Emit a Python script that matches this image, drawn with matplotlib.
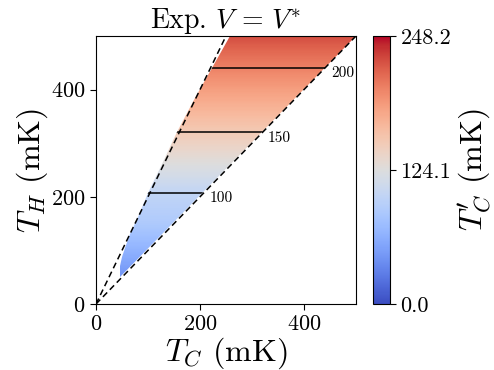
import numpy as np
import matplotlib
matplotlib.use("Agg")
import matplotlib.pyplot as plt
from matplotlib import patches
from matplotlib.colors import Normalize
from matplotlib.cm import ScalarMappable

plt.rcParams['font.family'] = 'cmr10'
plt.rcParams['mathtext.fontset'] = 'cm'
plt.rcParams['axes.formatter.use_mathtext'] = True

th_knots = [50, 150, 207, 320, 441, 500]
tcp_knots = [42, 86, 100, 150, 200, 226]

# outline of the coloured region (T_C, T_H) in mK
left_tc = [47, 47, 50, 56, 66, 80, 100, 128, 155, 190, 224, 258]
left_th = [51, 70, 88, 105, 130, 163, 207, 265, 320, 385, 441, 500]
right_tc = [500, 47]
right_th = [500, 51]

contour_levels = [100, 150, 200]
cbar_ticks = [0.0, 124.1, 248.2]
vmax = 248.2

fig = plt.figure(figsize=(4.94, 3.70), dpi=100)
ax = fig.add_axes([96/494, 66/370, 260/494, 268/370])
cax = fig.add_axes([373/494, 66/370, 17/494, 268/370])

tc = np.linspace(0, 500, 501)
th = np.linspace(0, 500, 501)
TC, TH = np.meshgrid(tc, th)
Z = np.interp(TH, th_knots, tcp_knots)

norm = Normalize(0, vmax)
region = patches.Polygon(list(zip(left_tc + right_tc, left_th + right_th)),
                         closed=True, fc='none', ec='none', transform=ax.transData)
ax.add_patch(region)

mesh = ax.pcolormesh(TC, TH, Z, cmap='coolwarm', norm=norm, shading='auto',
                     rasterized=True)
mesh.set_clip_path(region)

cs = ax.contour(TC, TH, Z, levels=contour_levels, colors='k', linewidths=1.1)
cs.set_clip_path(region)

# level labels just right of where each line meets T_H = T_C
for lev in contour_levels:
    y = np.interp(lev, tcp_knots, th_knots)
    ax.annotate(str(lev), (y, y), xytext=(4, -4), textcoords='offset points',
                ha='left', va='center', fontsize=11)

ax.plot([0, 500], [0, 500], 'k--', lw=1.1, dashes=(4, 2.5))
ax.plot([0, 250], [0, 500], 'k--', lw=1.1, dashes=(4, 2.5))

ax.set_xlim(0, 500)
ax.set_ylim(0, 500)
ax.set_xticks([0, 200, 400])
ax.set_yticks([0, 200, 400])
ax.tick_params(labelsize=16, length=4)
ax.set_xlabel(r'$T_C$ (mK)', fontsize=23, labelpad=1)
ax.set_ylabel(r'$T_H$ (mK)', fontsize=23, labelpad=1)
ax.set_title(r'Exp. $V\,=\,V^{*}$', fontsize=20, pad=1)

cb = fig.colorbar(ScalarMappable(norm=norm, cmap='coolwarm'), cax=cax)
cb.set_ticks(cbar_ticks)
cb.set_ticklabels(['%.1f' % t for t in cbar_ticks])
cb.ax.tick_params(labelsize=16, length=4)
cb.set_label(r"$T_C'$ (mK)", fontsize=23, labelpad=4)

fig.savefig('out.png', dpi=100)
